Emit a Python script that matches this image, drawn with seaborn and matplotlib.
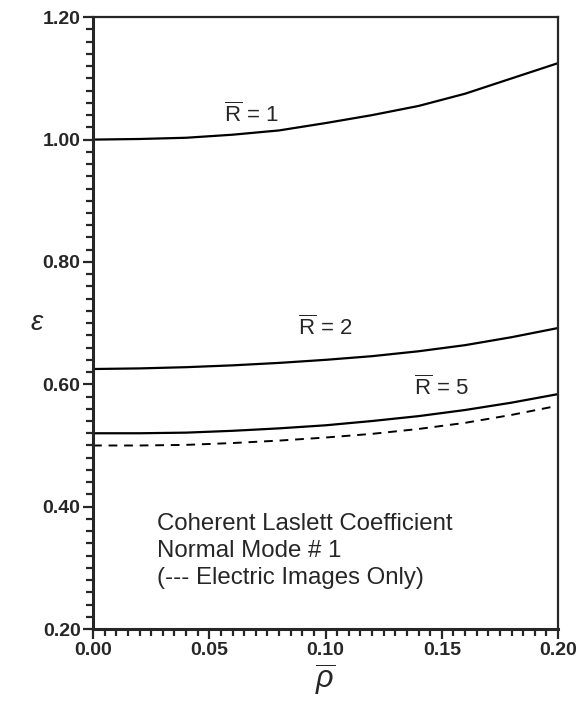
import matplotlib
matplotlib.use("Agg")
import matplotlib.pyplot as plt
import seaborn as sns
import pandas as pd
import numpy as np
from matplotlib.ticker import MultipleLocator, FormatStrFormatter

rho = [0.00, 0.02, 0.04, 0.06, 0.08, 0.10, 0.12, 0.14, 0.16, 0.18, 0.20]
eps_R1 = [1.000, 1.001, 1.003, 1.008, 1.015, 1.027, 1.040, 1.055, 1.075, 1.100, 1.125]
eps_R2 = [0.625, 0.626, 0.628, 0.631, 0.635, 0.640, 0.646, 0.654, 0.664, 0.677, 0.692]
eps_R5 = [0.520, 0.520, 0.521, 0.524, 0.528, 0.533, 0.540, 0.548, 0.558, 0.570, 0.584]
eps_elec = [0.500, 0.500, 0.501, 0.504, 0.508, 0.513, 0.519, 0.527, 0.537, 0.550, 0.565]

curve_labels = ["1", "2", "5"]
note_lines = ["Coherent Laslett Coefficient", "Normal Mode # 1", "(--- Electric Images Only)"]
xticks = [0.00, 0.05, 0.10, 0.15, 0.20]
yticks = [0.20, 0.40, 0.60, 0.80, 1.00, 1.20]

sns.set_style("ticks")
plt.rcParams['font.family'] = ['Liberation Sans', 'DejaVu Sans']
plt.rcParams['mathtext.fontset'] = 'custom'
plt.rcParams['mathtext.rm'] = 'Liberation Sans'
plt.rcParams['mathtext.it'] = 'Liberation Sans:italic'

df = pd.DataFrame({
    "rho": rho * 4,
    "eps": eps_R1 + eps_R2 + eps_R5 + eps_elec,
    "series": ["R1"] * len(rho) + ["R2"] * len(rho) + ["R5"] * len(rho) + ["elec"] * len(rho),
})

fig = plt.figure(figsize=(5.76, 7.04), dpi=100)
ax = fig.add_axes([0.1615, 0.1065, 0.8073, 0.869])

for s in ["R1", "R2", "R5"]:
    sns.lineplot(data=df[df.series == s], x="rho", y="eps", ax=ax, color="black", lw=1.6)
sns.lineplot(data=df[df.series == "elec"], x="rho", y="eps", ax=ax, color="black", lw=1.4,
             linestyle=(0, (4.5, 3.5)))

ax.set_xlim(0, 0.20)
ax.set_ylim(0.20, 1.20)
ax.set_xticks(xticks)
ax.set_yticks(yticks)
ax.xaxis.set_minor_locator(MultipleLocator(0.005))
ax.yaxis.set_minor_locator(MultipleLocator(0.02))
ax.xaxis.set_major_formatter(FormatStrFormatter("%.2f"))
ax.yaxis.set_major_formatter(FormatStrFormatter("%.2f"))
ax.tick_params(which="major", direction="out", length=7, width=1.6, labelsize=14, pad=2)
ax.tick_params(which="minor", direction="out", length=5, width=1.6)
for lab in ax.get_xticklabels() + ax.get_yticklabels():
    lab.set_fontweight("bold")
for sp in ax.spines.values():
    sp.set_visible(True)
    sp.set_linewidth(1.6)
ax.spines["left"].set_linewidth(2.2)
ax.spines["bottom"].set_linewidth(2.2)

ax.set_xlabel(r"$\overline{\rho}$", fontsize=22, labelpad=2)
ax.set_ylabel(r"$\varepsilon$", fontsize=20, rotation=0, labelpad=4, va="center")

label_pos = [(0.068, 1.040), (0.100, 0.693), (0.150, 0.594)]
for (x, y), t in zip(label_pos, curve_labels):
    ax.text(x, y, r"$\overline{\mathrm{R}}$ = " + t, fontsize=16, ha="center", va="center")

for i, line in enumerate(note_lines):
    ax.text(0.0275, 0.372 - i * 0.044, line, fontsize=17.3, ha="left", va="center")

fig.savefig("out.png", dpi=100)
